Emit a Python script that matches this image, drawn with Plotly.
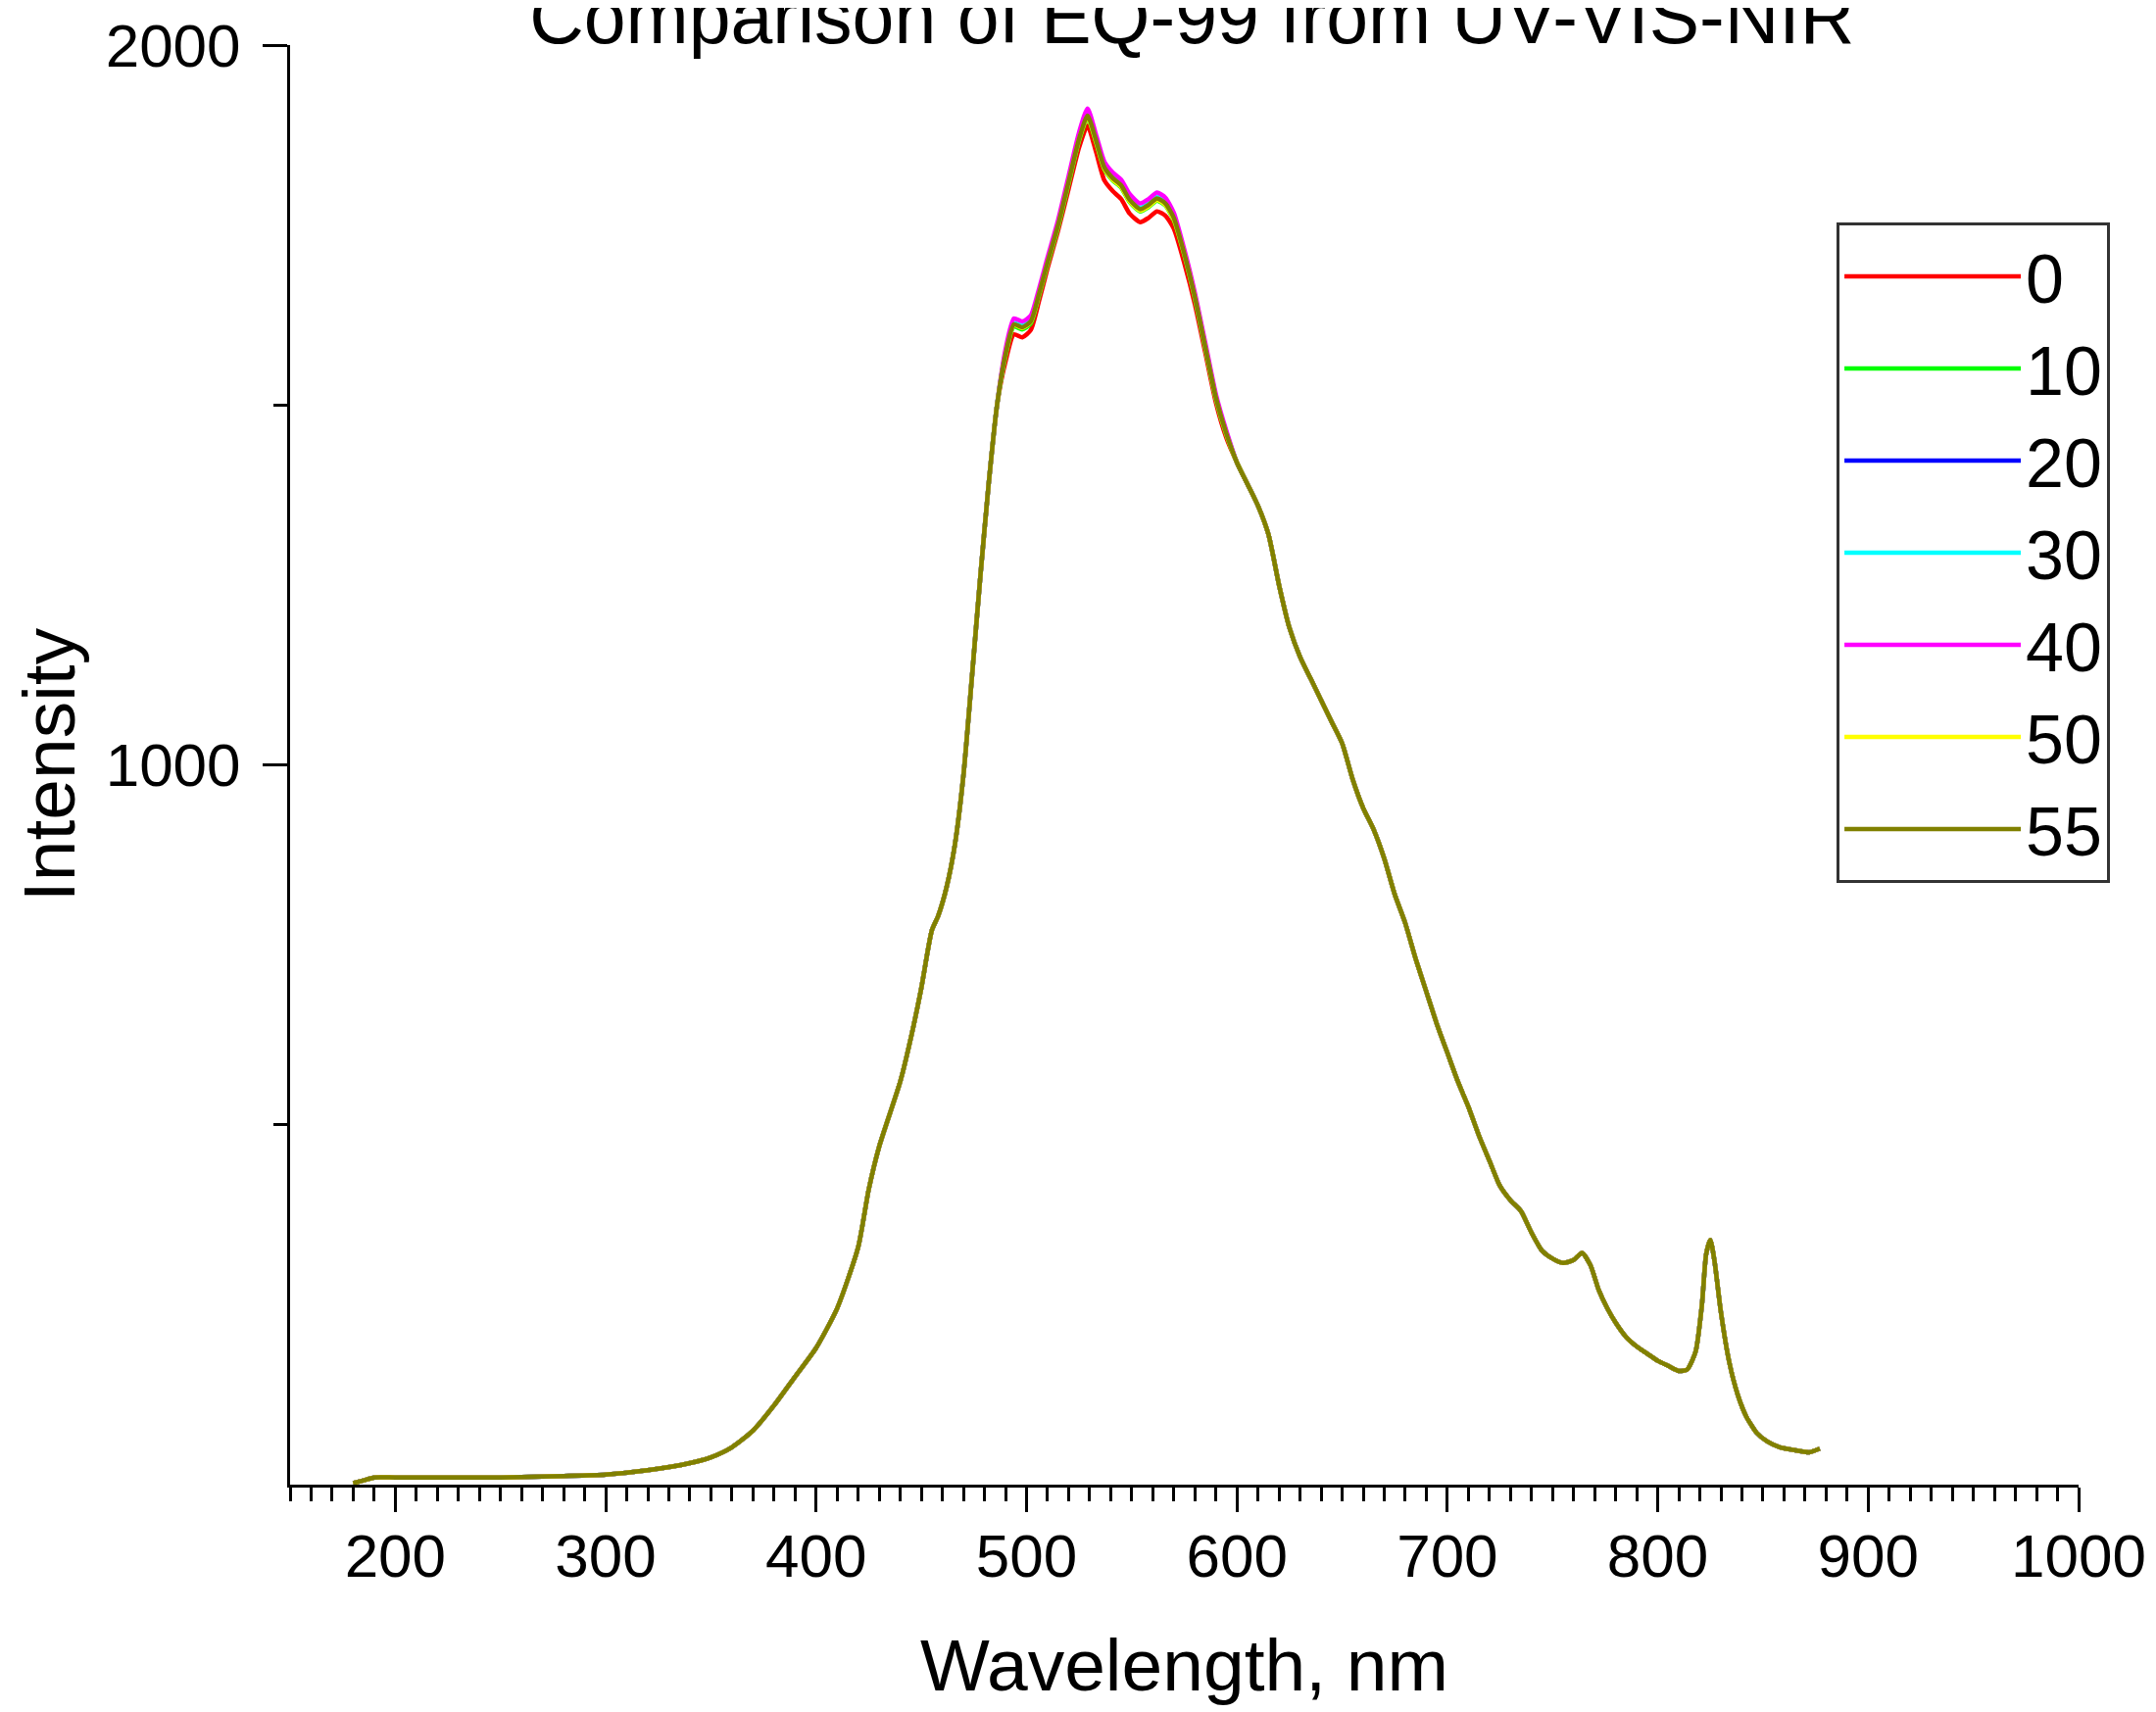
import plotly.graph_objects as go

# ---------------- data ----------------
series_names = ["0", "10", "20", "30", "40", "50", "55"]
series_colors = ["#FF0000", "#00FF00", "#0000FF", "#00FFFF", "#FF00FF", "#FFFF00", "#808000"]

# shared low-wavelength part (all series overlap)
wl_low = [180, 185, 190, 200, 220, 250, 280, 300, 320, 340, 350, 360, 370, 380, 390, 400,
          410, 420, 425, 430, 440, 445, 450, 455, 458, 462, 466, 470, 474, 478, 482, 486]
int_low = [2, 6, 10, 10, 10, 10, 12, 14, 20, 30, 38, 52, 75, 110, 150, 190,
           245, 330, 410, 470, 560, 620, 690, 770, 790, 830, 890, 985, 1120, 1260, 1390, 1500]

# peak region (series differ slightly)
wl_mid = [490, 494, 498, 502, 506, 510, 515, 520, 525, 529, 533, 537, 541, 545, 549,
          554, 558, 562, 566, 570, 575, 580, 585, 590, 595]
int_mid_0 = [1560, 1598, 1594, 1604, 1645, 1690, 1742, 1800, 1858, 1888, 1852, 1812, 1797, 1786, 1766,
             1754, 1760, 1769, 1763, 1745, 1697, 1640, 1572, 1503, 1454]
int_mid_10 = [1568, 1609, 1605, 1613, 1652, 1695, 1747, 1807, 1867, 1899, 1865, 1827, 1812, 1802, 1782,
              1769, 1775, 1784, 1777, 1757, 1708, 1648, 1578, 1508, 1458]
int_mid_20 = [1571, 1613, 1609, 1617, 1656, 1699, 1751, 1811, 1871, 1904, 1869, 1831, 1816, 1806, 1786,
              1773, 1779, 1788, 1781, 1761, 1711, 1651, 1581, 1511, 1461]
int_mid_30 = [1572, 1614, 1610, 1618, 1657, 1700, 1752, 1812, 1872, 1905, 1870, 1832, 1817, 1807, 1787,
              1774, 1780, 1789, 1782, 1762, 1712, 1652, 1582, 1512, 1462]
int_mid_40 = [1577, 1620, 1616, 1624, 1662, 1705, 1757, 1818, 1879, 1912, 1876, 1838, 1823, 1813, 1793,
              1780, 1786, 1795, 1788, 1767, 1716, 1656, 1586, 1515, 1464]
int_mid_50 = [1569, 1611, 1607, 1615, 1654, 1697, 1749, 1809, 1869, 1900, 1866, 1828, 1813, 1803, 1783,
              1770, 1776, 1785, 1778, 1758, 1709, 1649, 1579, 1509, 1459]
int_mid_55 = [1570, 1612, 1608, 1616, 1655, 1698, 1750, 1810, 1870, 1902, 1868, 1830, 1815, 1805, 1785,
              1772, 1778, 1787, 1780, 1760, 1710, 1650, 1580, 1510, 1460]

# shared high-wavelength part
wl_high = [600, 605, 610, 615, 620, 625, 630, 635, 640, 645, 650, 655, 660, 665, 670, 675, 680,
           685, 690, 695, 700, 705, 710, 715, 720, 725, 730, 735, 740, 745, 750, 755, 760, 764,
           768, 772, 776, 780, 785, 790, 795, 800, 805, 810, 814, 818, 821, 823, 825, 827, 830,
           834, 838, 842, 847, 852, 858, 865, 872, 877]
int_high = [1420, 1390, 1360, 1320, 1250, 1190, 1150, 1120, 1090, 1060, 1030, 980, 940, 910, 870, 820, 780,
            730, 685, 640, 600, 560, 525, 485, 450, 415, 395, 380, 350, 325, 314, 308, 312, 322,
            305, 270, 245, 225, 205, 192, 182, 172, 165, 158, 160, 185, 250, 320, 340, 310, 240,
            170, 125, 95, 72, 60, 52, 48, 45, 50]

mid_values = [int_mid_0, int_mid_10, int_mid_20, int_mid_30, int_mid_40, int_mid_50, int_mid_55]

x_tickvals = [200, 300, 400, 500, 600, 700, 800, 900, 1000]
y_tickvals = [1000, 2000]

FONT = "Liberation Sans, Arial, sans-serif"

fig = go.Figure()
for name, color, mids in zip(series_names, series_colors, mid_values):
    fig.add_trace(go.Scatter(
        x=wl_low + wl_mid + wl_high,
        y=int_low + mids + int_high,
        mode="lines",
        name=name,
        line=dict(color=color, width=4.5, shape="spline", smoothing=0.6),
    ))

fig.update_layout(
    width=2200, height=1747,
    paper_bgcolor="white", plot_bgcolor="white",
    margin=dict(l=288, r=87, t=38, b=240, autoexpand=False),
    font=dict(family=FONT, color="black", size=62),
    title=dict(text="Comparison of EQ-99 from UV-VIS-NIR", x=0.5492, xanchor="center",
               y=0.9948, yanchor="middle", yref="container",
               font=dict(size=77, family=FONT, color="black")),
    showlegend=True,
    legend=dict(x=0.8647, y=0.8768, xanchor="left", yanchor="top",
                bordercolor="#333333", borderwidth=3, bgcolor="white",
                font=dict(size=70, family=FONT, color="black"),
                itemwidth=180, tracegroupgap=0),
)

fig.update_xaxes(
    range=[150, 1000], tickmode="array", tickvals=x_tickvals,
    showgrid=False, zeroline=False, automargin=False,
    showline=True, linecolor="black", linewidth=3,
    ticks="outside", ticklen=25, tickwidth=3, tickcolor="black",
    tickfont=dict(size=62, family=FONT, color="black"),
    ticklabelstandoff=-8,
    minor=dict(ticks="outside", dtick=10, tick0=0, ticklen=14, tickwidth=3, tickcolor="black", showgrid=False),
    title=dict(text="Wavelength, nm", font=dict(size=75, family=FONT, color="black"), standoff=52),
)
fig.update_yaxes(
    range=[0, 2000], tickmode="array", tickvals=y_tickvals,
    showgrid=False, zeroline=False, automargin=False,
    showline=True, linecolor="black", linewidth=3,
    ticks="outside", ticklen=25, tickwidth=3, tickcolor="black",
    tickfont=dict(size=62, family=FONT, color="black"),
    ticklabelstandoff=10,
    minor=dict(ticks="outside", tickvals=[500, 1500], ticklen=14, tickwidth=3, tickcolor="black", showgrid=False),
    title=dict(text="Intensity", font=dict(size=75, family=FONT, color="black"), standoff=28),
)

fig.write_html("out.html")
